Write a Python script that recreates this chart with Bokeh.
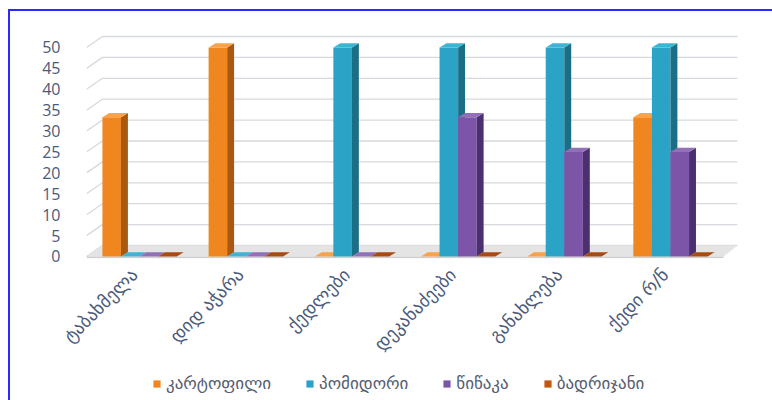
from math import pi
from bokeh.plotting import figure
from bokeh.layouts import column
from bokeh.models import (Range1d, FixedTicker, Legend, LegendItem, ColumnDataSource)
from bokeh.embed import file_html
from bokeh.resources import INLINE

# ---- data ----
categories = ["ტაბახმელა", "დიდ აჭარა", "ქედლები", "დეკანაძეები", "განახლება", "ქედი რ/ნ"]
series_names = ["კარტოფილი", "პომიდორი", "წიწაკა", "ბადრიჯანი"]
potato   = [33.3, 50, 0, 0, 0, 33.3]
tomato   = [0, 0, 50, 50, 50, 50]
pepper   = [0, 0, 0, 33.3, 25, 25]
eggplant = [0, 0, 0, 0, 0, 0]
y_ticks = [0, 5, 10, 15, 20, 25, 30, 35, 40, 45, 50]

series_values = [potato, tomato, pepper, eggplant]
front_colors = ["#f0861f", "#2aa3c6", "#7d55a8", "#c5560f"]
side_colors  = ["#a85810", "#1a6e86", "#4b2f6e", "#8a3b08"]
top_colors   = ["#f9a24a", "#3fb3d3", "#9170b8", "#a94a10"]

LABEL_COLOR = "#4b5a7a"
GEO_FONT = "DejaVu Sans"

# pseudo-3D geometry (in data units)
BAR_W = 0.175
GROUP_START = 0.15
SIDE_DX, SIDE_DY = 0.065, 1.0
WALL_DX, WALL_DY = 0.15, 2.63
X_END = 6.15
LABEL_SHIFT = -0.05

CHART_H = 356
p = figure(width=762, height=CHART_H, output_backend="svg", toolbar_location=None,
           x_range=Range1d(0, X_END), y_range=Range1d(-0.48, 55.26),
           min_border_left=76, min_border_right=33, min_border_top=14,
           min_border_bottom=CHART_H - 247)
p.outline_line_color = None
p.xgrid.visible = False
p.ygrid.visible = False
p.background_fill_color = "white"
p.border_fill_color = "white"

# back-wall gridlines
gxs, gys = [], []
for v in y_ticks:
    gxs.append([0.0, WALL_DX, X_END - 0.02])
    gys.append([v, v + WALL_DY, v + WALL_DY])
p.multi_line(gxs, gys, line_color="#d6d9de", line_width=1.3)

# floor
p.patch([0.0, X_END - WALL_DX, X_END - 0.02, WALL_DX], [0, 0, WALL_DY, WALL_DY],
        fill_color="#e4e4e4", line_color=None)
p.patch([0.0, X_END - WALL_DX, X_END - WALL_DX, 0.0], [0, 0, -0.45, -0.45],
        fill_color="#cfcfcf", line_color=None)

sources = []
for j, vals in enumerate(series_values):
    x0 = [i + GROUP_START + j * BAR_W for i in range(len(categories))]
    x1 = [a + BAR_W for a in x0]
    src = ColumnDataSource(dict(left=x0, right=x1, top=vals, bottom=[0] * len(vals)))
    sources.append(src)
    p.quad(left="left", right="right", top="top", bottom="bottom", source=src,
           fill_color=front_colors[j], line_color=None)
    side_xs = [[b, b + SIDE_DX, b + SIDE_DX, b] for b in x1]
    side_ys = [[0, SIDE_DY, v + SIDE_DY, v] for v in vals]
    p.patches(side_xs, side_ys, fill_color=side_colors[j], line_color=None)
    top_xs = [[a, a + SIDE_DX, b + SIDE_DX, b] for a, b in zip(x0, x1)]
    top_ys = [[v, v + SIDE_DY, v + SIDE_DY, v] for v in vals]
    p.patches(top_xs, top_ys, fill_color=top_colors[j], line_color=None)

# axes
p.yaxis.ticker = FixedTicker(ticks=y_ticks)
p.yaxis.axis_line_color = None
p.yaxis.major_tick_line_color = None
p.yaxis.minor_tick_line_color = None
p.yaxis.major_label_standoff = 20
p.yaxis.major_label_text_font = "Open Sans"
p.yaxis.major_label_text_font_size = "16px"
p.yaxis.major_label_text_color = LABEL_COLOR

x_ticks = [i + 0.5 + LABEL_SHIFT for i in range(len(categories))]
p.xaxis.ticker = FixedTicker(ticks=x_ticks)
p.xaxis.major_label_overrides = {t: c for t, c in zip(x_ticks, categories)}
p.xaxis.axis_line_color = None
p.xaxis.major_tick_line_color = None
p.xaxis.minor_tick_line_color = None
p.xaxis.major_label_orientation = pi / 4
p.xaxis.major_label_standoff = 7
p.xaxis.major_label_text_font = GEO_FONT
p.xaxis.major_label_text_font_size = "18px"
p.xaxis.major_label_text_color = LABEL_COLOR

# legend strip (separate small figure under the chart, frames aligned with the chart)
LEG_H = 389 - CHART_H
pl = figure(width=762, height=LEG_H, output_backend="svg", toolbar_location=None,
            x_axis_type=None, y_axis_type=None, min_border=0,
            x_range=Range1d(0, X_END), y_range=Range1d(-20, -10))
pl.outline_line_color = None
pl.xgrid.visible = False
pl.ygrid.visible = False
pl.border_fill_color = "white"
items = []
for j, name in enumerate(series_names):
    # same bar data, out of this strip's view: only used for the legend swatches
    r = pl.quad(left="left", right="right", top="top", bottom="bottom", source=sources[j],
                fill_color=front_colors[j], line_color=None)
    items.append(LegendItem(label=name, renderers=[r]))
legend = Legend(items=items, orientation="horizontal", location=(66, 7),
                glyph_width=9, glyph_height=9, label_standoff=5, spacing=34, padding=0,
                margin=0, border_line_color=None, background_fill_alpha=0,
                label_text_font=GEO_FONT, label_text_font_size="17px",
                label_text_color="#555d70")
pl.add_layout(legend, "center")

# blue frame around the picture (only its top and left edges fall in view)
page = column(p, pl, spacing=0,
              styles={"margin-left": "8px", "margin-top": "9px",
                      "border-left": "2px solid #2a2aff",
                      "border-top": "2px solid #2a2aff"})

open("out.html", "w").write(file_html(page, INLINE))
